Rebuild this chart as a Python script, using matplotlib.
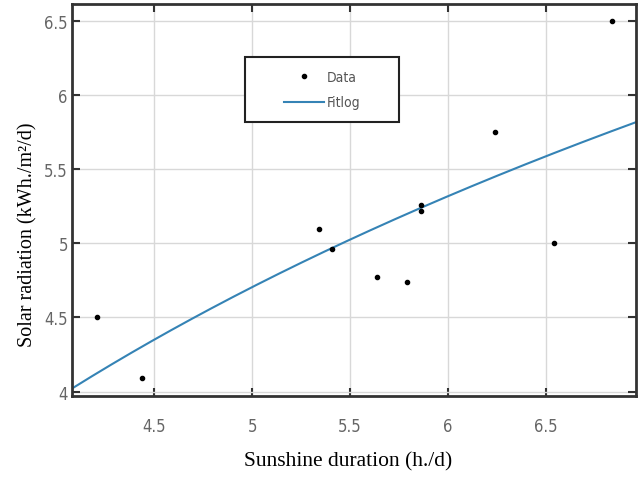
import numpy as np
import matplotlib.pyplot as plt
from matplotlib.patches import Rectangle

# measured points
sunshine = [4.21, 4.44, 5.34, 5.41, 5.64, 5.79, 5.86, 5.86, 6.24, 6.54, 6.84]
radiation = [4.50, 4.09, 5.10, 4.96, 4.77, 4.74, 5.26, 5.22, 5.75, 5.00, 6.50]

# log fit: y = a + b*ln(x)
fit_a = -0.711
fit_b = 3.365

xlim = (4.08, 6.96)
ylim = (3.97, 6.615)
xticks = [4.5, 5, 5.5, 6, 6.5]
yticks = [4, 4.5, 5, 5.5, 6, 6.5]
xticklabels = ['4.5', '5', '5.5', '6', '6.5']
yticklabels = ['4', '4.5', '5', '5.5', '6', '6.5']

fig = plt.figure(figsize=(6.41, 4.81), dpi=100)
ax = fig.add_axes([0.1123, 0.1746, 0.8799, 0.815])

xf = np.linspace(xlim[0], xlim[1], 200)
ax.plot(sunshine, radiation, 'k.', markersize=6, label='Data', zorder=3)
ax.plot(xf, fit_a + fit_b * np.log(xf), color='#3583b5', linewidth=1.5, label='Fitlog')

ax.set_xlim(xlim)
ax.set_ylim(ylim)
ax.set_xticks(xticks)
ax.set_yticks(yticks)
ax.set_xticklabels(xticklabels, stretch='condensed')
ax.set_yticklabels(yticklabels, stretch='condensed')
ax.grid(True, color='#d8d8d8', linewidth=1)
ax.tick_params(direction='in', top=True, right=True, length=6, width=1.5,
               labelsize=12, labelcolor='#666666', colors='#333333')
ax.tick_params(axis='x', pad=15)
ax.tick_params(axis='y', pad=3)
for s in ax.spines.values():
    s.set_linewidth(2)
    s.set_color('#333333')

fig.text(0.543, 0.040, 'Sunshine duration (h./d)', family='Liberation Serif',
         fontsize=15.5, ha='center', va='center')
fig.text(0.044, 0.511, 'Solar radiation (kWh./m²/d)', family='Liberation Serif',
         fontsize=14.5, ha='center', va='center', rotation=90)

# legend box drawn separately (wide MATLAB-style frame)
ax.add_patch(Rectangle((0.307, 0.70), 0.273, 0.165, transform=ax.transAxes,
                       facecolor='white', edgecolor='#222222', linewidth=1.5, zorder=4))
leg = ax.legend(loc='center', bbox_to_anchor=(0.443, 0.782), frameon=False,
                borderpad=0.3, labelspacing=0.85,
                handlelength=2.9, handletextpad=0.2, prop={'size': 10, 'stretch': 'condensed'})
leg.set_zorder(5)
for t in leg.get_texts():
    t.set_color('#555555')

fig.savefig('out.png', dpi=100)
